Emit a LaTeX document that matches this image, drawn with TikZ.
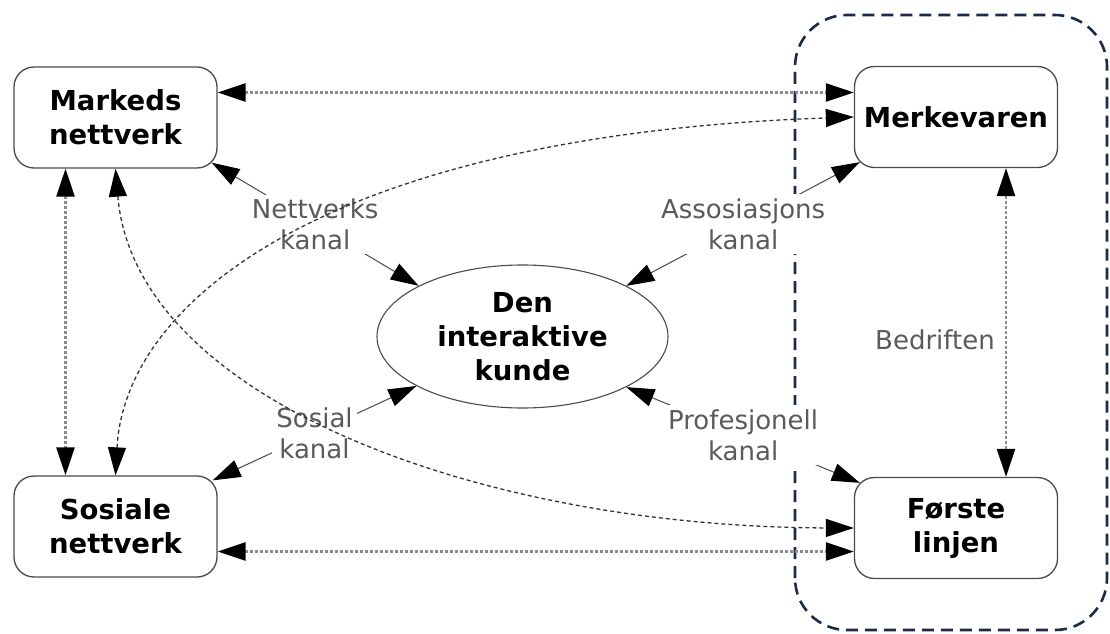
\documentclass[tikz,border=0pt]{standalone}
\usepackage{fontspec}
\setmainfont{DejaVu Sans}
\usetikzlibrary{arrows.meta,shapes.geometric,calc}
\definecolor{framenavy}{HTML}{1B2A4A}
\definecolor{labelgray}{HTML}{5A5A5A}
\definecolor{dotgray}{HTML}{8C8C8C}
\definecolor{curvegray}{HTML}{333333}
\definecolor{linegray}{HTML}{4A4A4A}
\begin{document}
\begin{tikzpicture}[x=1pt,y=1pt,
  >={Triangle[length=28pt,width=18pt,color=black]},
  entity/.style={draw=linegray, line width=1.3pt, rounded corners=20pt,
    minimum width=203pt, minimum height=101pt, align=center, text=black,
    fill=white, font=\fontsize{27.5}{34}\selectfont\bfseries},
  hub/.style={ellipse, draw=linegray, line width=1.1pt, minimum width=291pt,
    minimum height=143pt, inner sep=0pt, align=center, text=black,
    fill=white, font=\fontsize{27.5}{34}\selectfont\bfseries},
  chan/.style={<->, draw=linegray, line width=1pt},
  chanlabel/.style={fill=white, text=labelgray, align=center, inner sep=4pt,
    font=\fontsize{26}{31}\selectfont},
  linkdot/.style={<->, draw=dotgray, line width=2.4pt, dash pattern=on 3pt off 2pt},
  linkcurve/.style={<->, draw=curvegray, line width=1.3pt, dash pattern=on 4pt off 3pt},
  company/.style={draw=framenavy, line width=2.6pt, dash pattern=on 12pt off 7pt,
    rounded corners=52pt}
]
\useasboundingbox (0,0) rectangle (1110,633);
\fill[white] (0,0) rectangle (1110,633);

% the company boundary
\draw[company] (795,3) rectangle (1107,618);

% actors
\node[entity] (markeds) at (115.5,515.5) {Markeds\\nettverk};
\node[entity] (merk)    at (956,516)     {Merkevaren};
\node[entity] (sosiale) at (115.5,106.5) {Sosiale\\nettverk};
\node[entity] (forste)  at (956,105)     {Første\\linjen};
\node[hub]    (kunde)   at (522.5,296.5) {Den\\interaktive\\kunde};

% channels to the customer
\draw[chan] ($(markeds.south east)+(-6,6)$) -- node[chanlabel] {Nettverks\\kanal} (kunde.154);
\draw[chan] ($(merk.south west)+(6,6)$) -- node[chanlabel] {Assosiasjons\\kanal} (kunde.26);
\draw[chan] (kunde.205) -- node[chanlabel] {Sosial\\kanal} ($(sosiale.north east)+(-5,-5)$);
\draw[chan] (kunde.334) -- node[chanlabel] {Profesjonell\\kanal} ($(forste.north west)+(6,-6)$);

% links between the actors
\draw[linkdot] ([yshift=25pt]markeds.east) -- ([yshift=25pt]markeds.east -| merk.west);
\draw[linkdot] ([yshift=-25pt]sosiale.east) -- ([yshift=-25pt]sosiale.east -| forste.west);
\draw[linkdot] ([xshift=-50pt]markeds.south) -- ([xshift=-50pt]markeds.south |- sosiale.north);
\draw[linkdot] ([xshift=50pt]merk.south) -- ([xshift=50pt]merk.south |- forste.north);

\node[text=labelgray, font=\fontsize{26}{31}\selectfont] (bedrift) at (935,293) {Bedriften};

% crossing links
\draw[linkcurve] (sosiale.north) .. controls (125,333) and (330,498) .. (merk.west);
\draw[linkcurve] (markeds.south) .. controls (135,233) and (480,106) .. (forste.west);
\end{tikzpicture}
\end{document}
